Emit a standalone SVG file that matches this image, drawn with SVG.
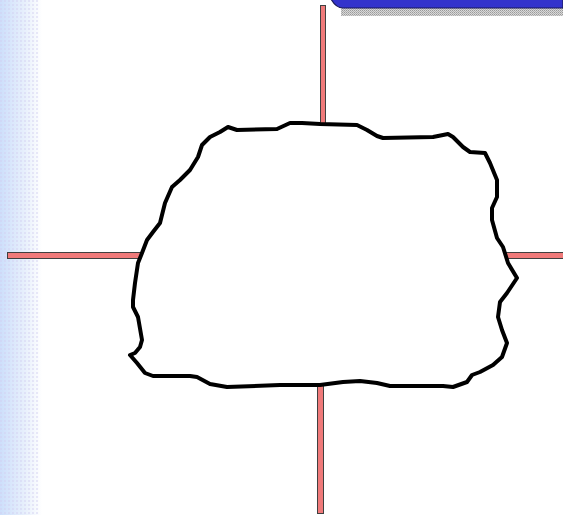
<svg xmlns="http://www.w3.org/2000/svg" width="563" height="515" viewBox="0 0 563 515">
<defs>
<linearGradient id="lg" x1="0" y1="0" x2="1" y2="0">
<stop offset="0" stop-color="#cddffb"/>
<stop offset="0.6" stop-color="#e8f0fc"/>
<stop offset="1" stop-color="#ffffff"/>
</linearGradient>
<pattern id="dots" width="4" height="4" patternUnits="userSpaceOnUse">
<rect x="0" y="0" width="2" height="2" fill="#d2cff0"/>
</pattern>
<pattern id="shade" width="2" height="2" patternUnits="userSpaceOnUse">
<rect x="0" y="0" width="2" height="2" fill="#d8d8d8"/>
<rect x="0" y="0" width="1" height="1" fill="#9a9a9a"/>
<rect x="1" y="1" width="1" height="1" fill="#b0b0b0"/>
</pattern>
<style>
.bar{fill:#f07a7a;stroke:#404040;stroke-width:1}
.blob{fill:#ffffff;stroke:#000000;stroke-width:4;stroke-linejoin:round}
</style>
</defs>
<rect x="0" y="0" width="563" height="515" fill="#ffffff"/>
<g id="background">
<rect x="0" y="0" width="42" height="515" fill="url(#lg)"/>
<rect x="0" y="0" width="40" height="515" fill="url(#dots)" opacity="0.45"/>
</g>
<g id="banner">
<rect x="341" y="7" width="222" height="9" fill="url(#shade)"/>
<path d="M331,-1 L563,-1 L563,8 L343,8 Q336,8 331,-1 Z" fill="#3333cc" stroke="#1a1a5a" stroke-width="1.2"/>
</g>
<g id="connectors">
<rect class="bar" x="320.5" y="5.5" width="5" height="122"/>
<rect class="bar" x="7.5" y="252.5" width="135" height="6"/>
<rect class="bar" x="505" y="252.5" width="60" height="6"/>
<rect class="bar" x="317.5" y="382" width="6" height="131.5"/>
</g>
<g id="blob">
<path class="blob" d="M228,127 L237,130 L277,129 L290,123 L302,123 L320,124 L357,125 L367,130 L377,136 L383,138 L433,137 L448,134 L453,137 L463,147 L470,152 L485,153 L490,163 L497,180 L497,197 L492,208 L492,220 L497,238 L503,247 L508,263 L517,278 L507,293 L500,302 L498,317 L502,330 L507,343 L502,357 L493,365 L480,372 L472,375 L467,382 L453,387 L443,386 L390,386 L377,383 L360,381 L343,382 L320,385 L280,385 L227,387 L210,384 L197,377 L190,376 L153,376 L145,373 L137,363 L130,355 L135,353 L140,347 L142,340 L138,317 L133,307 L133,300 L135,283 L138,263 L142,253 L147,240 L153,232 L160,223 L165,203 L172,187 L180,180 L190,170 L198,157 L202,145 L210,137 L220,132 Z"/>
</g>
</svg>
